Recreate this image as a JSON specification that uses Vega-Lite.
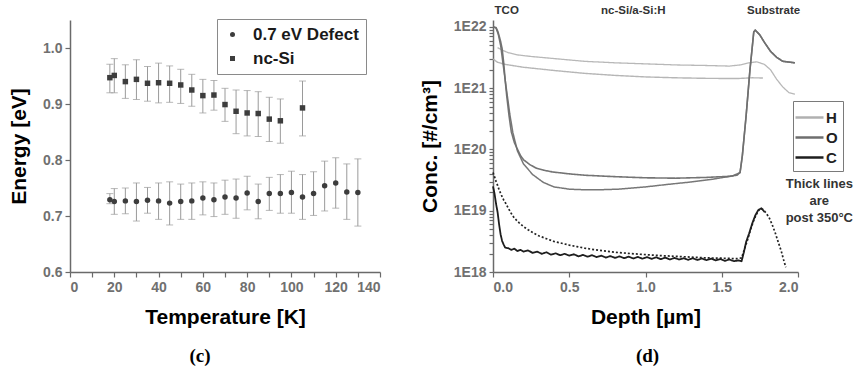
{
  "$schema": "https://vega.github.io/schema/vega-lite/v6.json",
  "background": "white",
  "padding": {"left": 8, "top": 5, "right": 0, "bottom": 5},
  "bounds": "flush",
  "spacing": 113,
  "config": {
    "font": "Liberation Sans",
    "view": {"stroke": null},
    "axis": {
      "grid": false,
      "domainColor": "#6a6a6a",
      "domainWidth": 1.5,
      "tickColor": "#6a6a6a",
      "tickWidth": 1.2,
      "tickSize": 5,
      "labelFont": "Liberation Sans",
      "labelFontWeight": "bold",
      "labelColor": "#707070",
      "labelFontSize": 14,
      "labelPadding": 3,
      "titleFont": "Liberation Sans",
      "titleFontWeight": "bold",
      "titleFontSize": 21,
      "titleColor": "#000000"
    }
  },
  "datasets": {
    "energy": [
      {"T": 18, "E": 0.729, "hi": 0.740, "lo": 0.722, "series": "0.7 eV Defect"},
      {"T": 20, "E": 0.726, "hi": 0.749, "lo": 0.703, "series": "0.7 eV Defect"},
      {"T": 25, "E": 0.727, "hi": 0.750, "lo": 0.704, "series": "0.7 eV Defect"},
      {"T": 30, "E": 0.726, "hi": 0.759, "lo": 0.691, "series": "0.7 eV Defect"},
      {"T": 35, "E": 0.728, "hi": 0.751, "lo": 0.705, "series": "0.7 eV Defect"},
      {"T": 40, "E": 0.727, "hi": 0.759, "lo": 0.694, "series": "0.7 eV Defect"},
      {"T": 45, "E": 0.723, "hi": 0.761, "lo": 0.684, "series": "0.7 eV Defect"},
      {"T": 50, "E": 0.726, "hi": 0.757, "lo": 0.694, "series": "0.7 eV Defect"},
      {"T": 55, "E": 0.727, "hi": 0.759, "lo": 0.694, "series": "0.7 eV Defect"},
      {"T": 60, "E": 0.732, "hi": 0.761, "lo": 0.702, "series": "0.7 eV Defect"},
      {"T": 65, "E": 0.729, "hi": 0.759, "lo": 0.699, "series": "0.7 eV Defect"},
      {"T": 70, "E": 0.734, "hi": 0.764, "lo": 0.703, "series": "0.7 eV Defect"},
      {"T": 75, "E": 0.732, "hi": 0.766, "lo": 0.696, "series": "0.7 eV Defect"},
      {"T": 80, "E": 0.741, "hi": 0.771, "lo": 0.711, "series": "0.7 eV Defect"},
      {"T": 85, "E": 0.726, "hi": 0.757, "lo": 0.695, "series": "0.7 eV Defect"},
      {"T": 90, "E": 0.740, "hi": 0.769, "lo": 0.710, "series": "0.7 eV Defect"},
      {"T": 95, "E": 0.740, "hi": 0.774, "lo": 0.705, "series": "0.7 eV Defect"},
      {"T": 100, "E": 0.742, "hi": 0.780, "lo": 0.705, "series": "0.7 eV Defect"},
      {"T": 105, "E": 0.734, "hi": 0.774, "lo": 0.694, "series": "0.7 eV Defect"},
      {"T": 110, "E": 0.740, "hi": 0.779, "lo": 0.701, "series": "0.7 eV Defect"},
      {"T": 115, "E": 0.754, "hi": 0.798, "lo": 0.709, "series": "0.7 eV Defect"},
      {"T": 120, "E": 0.759, "hi": 0.804, "lo": 0.714, "series": "0.7 eV Defect"},
      {"T": 125, "E": 0.743, "hi": 0.793, "lo": 0.694, "series": "0.7 eV Defect"},
      {"T": 130, "E": 0.742, "hi": 0.802, "lo": 0.682, "series": "0.7 eV Defect"},
      {"T": 18, "E": 0.947, "hi": 0.971, "lo": 0.920, "series": "nc-Si"},
      {"T": 20, "E": 0.951, "hi": 0.981, "lo": 0.920, "series": "nc-Si"},
      {"T": 25, "E": 0.940, "hi": 0.970, "lo": 0.910, "series": "nc-Si"},
      {"T": 30, "E": 0.944, "hi": 0.979, "lo": 0.908, "series": "nc-Si"},
      {"T": 35, "E": 0.937, "hi": 0.967, "lo": 0.905, "series": "nc-Si"},
      {"T": 40, "E": 0.938, "hi": 0.973, "lo": 0.902, "series": "nc-Si"},
      {"T": 45, "E": 0.937, "hi": 0.968, "lo": 0.903, "series": "nc-Si"},
      {"T": 50, "E": 0.934, "hi": 0.962, "lo": 0.901, "series": "nc-Si"},
      {"T": 55, "E": 0.925, "hi": 0.953, "lo": 0.896, "series": "nc-Si"},
      {"T": 60, "E": 0.915, "hi": 0.944, "lo": 0.884, "series": "nc-Si"},
      {"T": 65, "E": 0.916, "hi": 0.942, "lo": 0.889, "series": "nc-Si"},
      {"T": 70, "E": 0.899, "hi": 0.928, "lo": 0.869, "series": "nc-Si"},
      {"T": 75, "E": 0.887, "hi": 0.925, "lo": 0.847, "series": "nc-Si"},
      {"T": 80, "E": 0.884, "hi": 0.924, "lo": 0.843, "series": "nc-Si"},
      {"T": 85, "E": 0.883, "hi": 0.922, "lo": 0.842, "series": "nc-Si"},
      {"T": 90, "E": 0.873, "hi": 0.912, "lo": 0.833, "series": "nc-Si"},
      {"T": 95, "E": 0.870, "hi": 0.909, "lo": 0.830, "series": "nc-Si"},
      {"T": 105, "E": 0.893, "hi": 0.941, "lo": 0.843, "series": "nc-Si"}
    ],
    "sims": [
      {"depth": 0.03, "conc": 4.6e21, "element": "H", "series": "H-asdep"},
      {"depth": 0.06, "conc": 4.2e21, "element": "H", "series": "H-asdep"},
      {"depth": 0.1, "conc": 3.8e21, "element": "H", "series": "H-asdep"},
      {"depth": 0.16, "conc": 3.5e21, "element": "H", "series": "H-asdep"},
      {"depth": 0.25, "conc": 3.3e21, "element": "H", "series": "H-asdep"},
      {"depth": 0.4, "conc": 3.05e21, "element": "H", "series": "H-asdep"},
      {"depth": 0.6, "conc": 2.75e21, "element": "H", "series": "H-asdep"},
      {"depth": 0.8, "conc": 2.6e21, "element": "H", "series": "H-asdep"},
      {"depth": 1.0, "conc": 2.5e21, "element": "H", "series": "H-asdep"},
      {"depth": 1.2, "conc": 2.4e21, "element": "H", "series": "H-asdep"},
      {"depth": 1.4, "conc": 2.35e21, "element": "H", "series": "H-asdep"},
      {"depth": 1.55, "conc": 2.3e21, "element": "H", "series": "H-asdep"},
      {"depth": 1.62, "conc": 2.4e21, "element": "H", "series": "H-asdep"},
      {"depth": 1.68, "conc": 2.6e21, "element": "H", "series": "H-asdep"},
      {"depth": 1.73, "conc": 2.7e21, "element": "H", "series": "H-asdep"},
      {"depth": 1.78, "conc": 2.45e21, "element": "H", "series": "H-asdep"},
      {"depth": 1.82, "conc": 2.0e21, "element": "H", "series": "H-asdep"},
      {"depth": 1.86, "conc": 1.4e21, "element": "H", "series": "H-asdep"},
      {"depth": 1.9, "conc": 1.05e21, "element": "H", "series": "H-asdep"},
      {"depth": 1.94, "conc": 8.5e20, "element": "H", "series": "H-asdep"},
      {"depth": 1.98, "conc": 8.0e20, "element": "H", "series": "H-asdep"},
      {"depth": 0.0, "conc": 3.0e21, "element": "H", "series": "H-post"},
      {"depth": 0.03, "conc": 2.65e21, "element": "H", "series": "H-post"},
      {"depth": 0.08, "conc": 2.45e21, "element": "H", "series": "H-post"},
      {"depth": 0.2, "conc": 2.2e21, "element": "H", "series": "H-post"},
      {"depth": 0.4, "conc": 1.95e21, "element": "H", "series": "H-post"},
      {"depth": 0.6, "conc": 1.75e21, "element": "H", "series": "H-post"},
      {"depth": 0.8, "conc": 1.62e21, "element": "H", "series": "H-post"},
      {"depth": 1.0, "conc": 1.53e21, "element": "H", "series": "H-post"},
      {"depth": 1.2, "conc": 1.48e21, "element": "H", "series": "H-post"},
      {"depth": 1.4, "conc": 1.45e21, "element": "H", "series": "H-post"},
      {"depth": 1.6, "conc": 1.44e21, "element": "H", "series": "H-post"},
      {"depth": 1.7, "conc": 1.48e21, "element": "H", "series": "H-post"},
      {"depth": 1.77, "conc": 1.47e21, "element": "H", "series": "H-post"},
      {"depth": 0.0, "conc": 1.0e22, "element": "O", "series": "O-asdep"},
      {"depth": 0.02, "conc": 9.6e21, "element": "O", "series": "O-asdep"},
      {"depth": 0.035, "conc": 7.5e21, "element": "O", "series": "O-asdep"},
      {"depth": 0.05, "conc": 5.0e21, "element": "O", "series": "O-asdep"},
      {"depth": 0.065, "conc": 2.6e21, "element": "O", "series": "O-asdep"},
      {"depth": 0.08, "conc": 1.35e21, "element": "O", "series": "O-asdep"},
      {"depth": 0.095, "conc": 7.2e20, "element": "O", "series": "O-asdep"},
      {"depth": 0.11, "conc": 3.8e20, "element": "O", "series": "O-asdep"},
      {"depth": 0.13, "conc": 1.9e20, "element": "O", "series": "O-asdep"},
      {"depth": 0.16, "conc": 9.5e19, "element": "O", "series": "O-asdep"},
      {"depth": 0.2, "conc": 5.8e19, "element": "O", "series": "O-asdep"},
      {"depth": 0.26, "conc": 3.9e19, "element": "O", "series": "O-asdep"},
      {"depth": 0.33, "conc": 2.9e19, "element": "O", "series": "O-asdep"},
      {"depth": 0.4, "conc": 2.45e19, "element": "O", "series": "O-asdep"},
      {"depth": 0.5, "conc": 2.25e19, "element": "O", "series": "O-asdep"},
      {"depth": 0.6, "conc": 2.2e19, "element": "O", "series": "O-asdep"},
      {"depth": 0.7, "conc": 2.2e19, "element": "O", "series": "O-asdep"},
      {"depth": 0.82, "conc": 2.25e19, "element": "O", "series": "O-asdep"},
      {"depth": 1.0, "conc": 2.45e19, "element": "O", "series": "O-asdep"},
      {"depth": 1.15, "conc": 2.7e19, "element": "O", "series": "O-asdep"},
      {"depth": 1.3, "conc": 2.95e19, "element": "O", "series": "O-asdep"},
      {"depth": 1.45, "conc": 3.3e19, "element": "O", "series": "O-asdep"},
      {"depth": 1.57, "conc": 3.7e19, "element": "O", "series": "O-asdep"},
      {"depth": 1.62, "conc": 4.2e19, "element": "O", "series": "O-asdep"},
      {"depth": 1.635, "conc": 7.9e19, "element": "O", "series": "O-asdep"},
      {"depth": 1.66, "conc": 3.6e20, "element": "O", "series": "O-asdep"},
      {"depth": 1.685, "conc": 2.0e21, "element": "O", "series": "O-asdep"},
      {"depth": 1.71, "conc": 8.3e21, "element": "O", "series": "O-asdep"},
      {"depth": 1.72, "conc": 8.9e21, "element": "O", "series": "O-asdep"},
      {"depth": 1.75, "conc": 7.4e21, "element": "O", "series": "O-asdep"},
      {"depth": 1.78, "conc": 5.6e21, "element": "O", "series": "O-asdep"},
      {"depth": 1.82, "conc": 4.0e21, "element": "O", "series": "O-asdep"},
      {"depth": 1.86, "conc": 3.2e21, "element": "O", "series": "O-asdep"},
      {"depth": 1.9, "conc": 2.75e21, "element": "O", "series": "O-asdep"},
      {"depth": 1.98, "conc": 2.6e21, "element": "O", "series": "O-asdep"},
      {"depth": 0.0, "conc": 1.0e22, "element": "O", "series": "O-post"},
      {"depth": 0.02, "conc": 9.8e21, "element": "O", "series": "O-post"},
      {"depth": 0.033, "conc": 8.3e21, "element": "O", "series": "O-post"},
      {"depth": 0.05, "conc": 5.8e21, "element": "O", "series": "O-post"},
      {"depth": 0.06, "conc": 4.4e21, "element": "O", "series": "O-post"},
      {"depth": 0.07, "conc": 2.6e21, "element": "O", "series": "O-post"},
      {"depth": 0.08, "conc": 1.35e21, "element": "O", "series": "O-post"},
      {"depth": 0.09, "conc": 7.5e20, "element": "O", "series": "O-post"},
      {"depth": 0.105, "conc": 3.6e20, "element": "O", "series": "O-post"},
      {"depth": 0.12, "conc": 1.95e20, "element": "O", "series": "O-post"},
      {"depth": 0.14, "conc": 1.3e20, "element": "O", "series": "O-post"},
      {"depth": 0.157, "conc": 1.05e20, "element": "O", "series": "O-post"},
      {"depth": 0.18, "conc": 8.0e19, "element": "O", "series": "O-post"},
      {"depth": 0.2, "conc": 6.8e19, "element": "O", "series": "O-post"},
      {"depth": 0.24, "conc": 5.7e19, "element": "O", "series": "O-post"},
      {"depth": 0.28, "conc": 5.0e19, "element": "O", "series": "O-post"},
      {"depth": 0.33, "conc": 4.6e19, "element": "O", "series": "O-post"},
      {"depth": 0.39, "conc": 4.3e19, "element": "O", "series": "O-post"},
      {"depth": 0.5, "conc": 4.0e19, "element": "O", "series": "O-post"},
      {"depth": 0.6, "conc": 3.8e19, "element": "O", "series": "O-post"},
      {"depth": 0.8, "conc": 3.6e19, "element": "O", "series": "O-post"},
      {"depth": 1.0, "conc": 3.45e19, "element": "O", "series": "O-post"},
      {"depth": 1.2, "conc": 3.4e19, "element": "O", "series": "O-post"},
      {"depth": 1.4, "conc": 3.5e19, "element": "O", "series": "O-post"},
      {"depth": 1.55, "conc": 3.65e19, "element": "O", "series": "O-post"},
      {"depth": 1.6, "conc": 3.8e19, "element": "O", "series": "O-post"},
      {"depth": 1.62, "conc": 4.2e19, "element": "O", "series": "O-post"},
      {"depth": 1.635, "conc": 7.9e19, "element": "O", "series": "O-post"},
      {"depth": 1.66, "conc": 3.6e20, "element": "O", "series": "O-post"},
      {"depth": 1.685, "conc": 2.0e21, "element": "O", "series": "O-post"},
      {"depth": 1.71, "conc": 8.3e21, "element": "O", "series": "O-post"},
      {"depth": 1.72, "conc": 8.9e21, "element": "O", "series": "O-post"},
      {"depth": 1.75, "conc": 7.4e21, "element": "O", "series": "O-post"},
      {"depth": 1.78, "conc": 5.6e21, "element": "O", "series": "O-post"},
      {"depth": 1.82, "conc": 4.0e21, "element": "O", "series": "O-post"},
      {"depth": 1.86, "conc": 3.2e21, "element": "O", "series": "O-post"},
      {"depth": 1.9, "conc": 2.75e21, "element": "O", "series": "O-post"},
      {"depth": 1.98, "conc": 2.6e21, "element": "O", "series": "O-post"},
      {"depth": 0.0, "conc": 4.2e19, "element": "C", "series": "C-asdep"},
      {"depth": 0.01, "conc": 3.6e19, "element": "C", "series": "C-asdep"},
      {"depth": 0.02, "conc": 3.0e19, "element": "C", "series": "C-asdep"},
      {"depth": 0.03, "conc": 2.6e19, "element": "C", "series": "C-asdep"},
      {"depth": 0.04, "conc": 2.2e19, "element": "C", "series": "C-asdep"},
      {"depth": 0.055, "conc": 1.8e19, "element": "C", "series": "C-asdep"},
      {"depth": 0.07, "conc": 1.5e19, "element": "C", "series": "C-asdep"},
      {"depth": 0.085, "conc": 1.3e19, "element": "C", "series": "C-asdep"},
      {"depth": 0.1, "conc": 1.1e19, "element": "C", "series": "C-asdep"},
      {"depth": 0.12, "conc": 9.0e18, "element": "C", "series": "C-asdep"},
      {"depth": 0.14, "conc": 7.6e18, "element": "C", "series": "C-asdep"},
      {"depth": 0.17, "conc": 6.4e18, "element": "C", "series": "C-asdep"},
      {"depth": 0.2, "conc": 5.5e18, "element": "C", "series": "C-asdep"},
      {"depth": 0.23, "conc": 4.9e18, "element": "C", "series": "C-asdep"},
      {"depth": 0.26, "conc": 4.4e18, "element": "C", "series": "C-asdep"},
      {"depth": 0.3, "conc": 3.9e18, "element": "C", "series": "C-asdep"},
      {"depth": 0.35, "conc": 3.5e18, "element": "C", "series": "C-asdep"},
      {"depth": 0.4, "conc": 3.15e18, "element": "C", "series": "C-asdep"},
      {"depth": 0.45, "conc": 2.95e18, "element": "C", "series": "C-asdep"},
      {"depth": 0.5, "conc": 2.75e18, "element": "C", "series": "C-asdep"},
      {"depth": 0.55, "conc": 2.6e18, "element": "C", "series": "C-asdep"},
      {"depth": 0.6, "conc": 2.45e18, "element": "C", "series": "C-asdep"},
      {"depth": 0.7, "conc": 2.25e18, "element": "C", "series": "C-asdep"},
      {"depth": 0.8, "conc": 2.1e18, "element": "C", "series": "C-asdep"},
      {"depth": 0.9, "conc": 2.0e18, "element": "C", "series": "C-asdep"},
      {"depth": 1.0, "conc": 1.92e18, "element": "C", "series": "C-asdep"},
      {"depth": 1.1, "conc": 1.85e18, "element": "C", "series": "C-asdep"},
      {"depth": 1.2, "conc": 1.8e18, "element": "C", "series": "C-asdep"},
      {"depth": 1.3, "conc": 1.75e18, "element": "C", "series": "C-asdep"},
      {"depth": 1.4, "conc": 1.7e18, "element": "C", "series": "C-asdep"},
      {"depth": 1.5, "conc": 1.68e18, "element": "C", "series": "C-asdep"},
      {"depth": 1.6, "conc": 1.65e18, "element": "C", "series": "C-asdep"},
      {"depth": 1.63, "conc": 1.7e18, "element": "C", "series": "C-asdep"},
      {"depth": 1.65, "conc": 2.4e18, "element": "C", "series": "C-asdep"},
      {"depth": 1.67, "conc": 3.4e18, "element": "C", "series": "C-asdep"},
      {"depth": 1.69, "conc": 5.0e18, "element": "C", "series": "C-asdep"},
      {"depth": 1.71, "conc": 7.0e18, "element": "C", "series": "C-asdep"},
      {"depth": 1.73, "conc": 9.0e18, "element": "C", "series": "C-asdep"},
      {"depth": 1.75, "conc": 1.08e19, "element": "C", "series": "C-asdep"},
      {"depth": 1.77, "conc": 1.05e19, "element": "C", "series": "C-asdep"},
      {"depth": 1.79, "conc": 9.2e18, "element": "C", "series": "C-asdep"},
      {"depth": 1.81, "conc": 7.8e18, "element": "C", "series": "C-asdep"},
      {"depth": 1.83, "conc": 6.0e18, "element": "C", "series": "C-asdep"},
      {"depth": 1.85, "conc": 4.4e18, "element": "C", "series": "C-asdep"},
      {"depth": 1.87, "conc": 3.1e18, "element": "C", "series": "C-asdep"},
      {"depth": 1.89, "conc": 2.2e18, "element": "C", "series": "C-asdep"},
      {"depth": 1.905, "conc": 1.6e18, "element": "C", "series": "C-asdep"},
      {"depth": 1.92, "conc": 1.2e18, "element": "C", "series": "C-asdep"},
      {"depth": 0.0, "conc": 2.5e19, "element": "C", "series": "C-post"},
      {"depth": 0.01, "conc": 1.9e19, "element": "C", "series": "C-post"},
      {"depth": 0.02, "conc": 1.3e19, "element": "C", "series": "C-post"},
      {"depth": 0.03, "conc": 9.5e18, "element": "C", "series": "C-post"},
      {"depth": 0.04, "conc": 6.0e18, "element": "C", "series": "C-post"},
      {"depth": 0.05, "conc": 4.1e18, "element": "C", "series": "C-post"},
      {"depth": 0.06, "conc": 3.2e18, "element": "C", "series": "C-post"},
      {"depth": 0.07, "conc": 2.8e18, "element": "C", "series": "C-post"},
      {"depth": 0.08, "conc": 2.5e18, "element": "C", "series": "C-post"},
      {"depth": 0.1, "conc": 2.45e18, "element": "C", "series": "C-post"},
      {"depth": 0.12, "conc": 2.3e18, "element": "C", "series": "C-post"},
      {"depth": 0.14, "conc": 2.4e18, "element": "C", "series": "C-post"},
      {"depth": 0.16, "conc": 2.2e18, "element": "C", "series": "C-post"},
      {"depth": 0.18, "conc": 2.3e18, "element": "C", "series": "C-post"},
      {"depth": 0.2, "conc": 2.15e18, "element": "C", "series": "C-post"},
      {"depth": 0.23, "conc": 2.25e18, "element": "C", "series": "C-post"},
      {"depth": 0.26, "conc": 2.05e18, "element": "C", "series": "C-post"},
      {"depth": 0.29, "conc": 2.15e18, "element": "C", "series": "C-post"},
      {"depth": 0.32, "conc": 1.98e18, "element": "C", "series": "C-post"},
      {"depth": 0.35, "conc": 2.1e18, "element": "C", "series": "C-post"},
      {"depth": 0.38, "conc": 1.92e18, "element": "C", "series": "C-post"},
      {"depth": 0.41, "conc": 2.02e18, "element": "C", "series": "C-post"},
      {"depth": 0.44, "conc": 1.88e18, "element": "C", "series": "C-post"},
      {"depth": 0.47, "conc": 1.98e18, "element": "C", "series": "C-post"},
      {"depth": 0.5, "conc": 1.85e18, "element": "C", "series": "C-post"},
      {"depth": 0.53, "conc": 1.95e18, "element": "C", "series": "C-post"},
      {"depth": 0.56, "conc": 1.8e18, "element": "C", "series": "C-post"},
      {"depth": 0.59, "conc": 1.9e18, "element": "C", "series": "C-post"},
      {"depth": 0.62, "conc": 1.78e18, "element": "C", "series": "C-post"},
      {"depth": 0.65, "conc": 1.88e18, "element": "C", "series": "C-post"},
      {"depth": 0.68, "conc": 1.75e18, "element": "C", "series": "C-post"},
      {"depth": 0.71, "conc": 1.85e18, "element": "C", "series": "C-post"},
      {"depth": 0.74, "conc": 1.72e18, "element": "C", "series": "C-post"},
      {"depth": 0.77, "conc": 1.82e18, "element": "C", "series": "C-post"},
      {"depth": 0.8, "conc": 1.7e18, "element": "C", "series": "C-post"},
      {"depth": 0.83, "conc": 1.8e18, "element": "C", "series": "C-post"},
      {"depth": 0.86, "conc": 1.68e18, "element": "C", "series": "C-post"},
      {"depth": 0.89, "conc": 1.78e18, "element": "C", "series": "C-post"},
      {"depth": 0.92, "conc": 1.66e18, "element": "C", "series": "C-post"},
      {"depth": 0.95, "conc": 1.76e18, "element": "C", "series": "C-post"},
      {"depth": 0.98, "conc": 1.65e18, "element": "C", "series": "C-post"},
      {"depth": 1.01, "conc": 1.75e18, "element": "C", "series": "C-post"},
      {"depth": 1.04, "conc": 1.64e18, "element": "C", "series": "C-post"},
      {"depth": 1.07, "conc": 1.74e18, "element": "C", "series": "C-post"},
      {"depth": 1.1, "conc": 1.62e18, "element": "C", "series": "C-post"},
      {"depth": 1.13, "conc": 1.72e18, "element": "C", "series": "C-post"},
      {"depth": 1.16, "conc": 1.6e18, "element": "C", "series": "C-post"},
      {"depth": 1.19, "conc": 1.7e18, "element": "C", "series": "C-post"},
      {"depth": 1.22, "conc": 1.6e18, "element": "C", "series": "C-post"},
      {"depth": 1.25, "conc": 1.68e18, "element": "C", "series": "C-post"},
      {"depth": 1.28, "conc": 1.58e18, "element": "C", "series": "C-post"},
      {"depth": 1.31, "conc": 1.68e18, "element": "C", "series": "C-post"},
      {"depth": 1.34, "conc": 1.57e18, "element": "C", "series": "C-post"},
      {"depth": 1.37, "conc": 1.66e18, "element": "C", "series": "C-post"},
      {"depth": 1.4, "conc": 1.56e18, "element": "C", "series": "C-post"},
      {"depth": 1.43, "conc": 1.65e18, "element": "C", "series": "C-post"},
      {"depth": 1.46, "conc": 1.55e18, "element": "C", "series": "C-post"},
      {"depth": 1.49, "conc": 1.63e18, "element": "C", "series": "C-post"},
      {"depth": 1.52, "conc": 1.52e18, "element": "C", "series": "C-post"},
      {"depth": 1.55, "conc": 1.6e18, "element": "C", "series": "C-post"},
      {"depth": 1.58, "conc": 1.5e18, "element": "C", "series": "C-post"},
      {"depth": 1.61, "conc": 1.55e18, "element": "C", "series": "C-post"},
      {"depth": 1.63, "conc": 1.5e18, "element": "C", "series": "C-post"},
      {"depth": 1.645, "conc": 2.1e18, "element": "C", "series": "C-post"},
      {"depth": 1.66, "conc": 3.1e18, "element": "C", "series": "C-post"},
      {"depth": 1.68, "conc": 4.3e18, "element": "C", "series": "C-post"},
      {"depth": 1.7, "conc": 6.2e18, "element": "C", "series": "C-post"},
      {"depth": 1.72, "conc": 8.4e18, "element": "C", "series": "C-post"},
      {"depth": 1.74, "conc": 1.03e19, "element": "C", "series": "C-post"},
      {"depth": 1.76, "conc": 1.1e19, "element": "C", "series": "C-post"},
      {"depth": 1.78, "conc": 9.6e18, "element": "C", "series": "C-post"}
    ],
    "regions": [
      {"depth": 0.09, "conc": 1.8e22, "label": "TCO"},
      {"depth": 0.92, "conc": 1.8e22, "label": "nc-Si/a-Si:H"},
      {"depth": 1.84, "conc": 1.8e22, "label": "Substrate"}
    ],
    "note": [
      {"depth": 2.14, "conc": 3.4e19, "label": "Thick lines\nare\npost 350°C"}
    ]
  },
  "hconcat": [
    {
      "width": 310,
      "height": 252,
      "title": {"text": "(c)", "orient": "bottom", "font": "Liberation Serif", "fontSize": 19, "fontWeight": "bold", "color": "#000000", "dx": -25, "offset": 20},
      "data": {"name": "energy"},
      "encoding": {
        "x": {
          "field": "T", "type": "quantitative",
          "scale": {"domain": [0, 140], "nice": false},
          "axis": {
            "title": "Temperature [K]",
            "values": [0, 10, 20, 30, 40, 50, 60, 70, 80, 90, 100, 110, 120, 130, 140],
            "labelExpr": "datum.value % 20 == 0 ? datum.label : ''",
            "titlePadding": 12
          }
        }
      },
      "layer": [
        {
          "mark": {"type": "errorbar", "ticks": true, "size": 7, "thickness": 1, "color": "#9a9a9a"},
          "encoding": {
            "y": {"field": "lo", "type": "quantitative", "scale": {"domain": [0.6, 1.05], "nice": false, "zero": false}, "title": "Energy [eV]"},
            "y2": {"field": "hi"}
          }
        },
        {
          "mark": {"type": "point", "filled": true, "color": "#3d3d3d", "size": 30, "opacity": 1},
          "encoding": {
            "y": {
              "field": "E", "type": "quantitative",
              "scale": {"domain": [0.6, 1.05], "nice": false, "zero": false},
              "axis": {
                "title": "Energy [eV]",
                "values": [0.6, 0.65, 0.7, 0.75, 0.8, 0.85, 0.9, 0.95, 1.0],
                "labelExpr": "abs(datum.value * 10 - round(datum.value * 10)) < 0.001 ? format(datum.value, '.1f') : ''",
                "titlePadding": 13
              }
            },
            "shape": {
              "field": "series", "type": "nominal",
              "scale": {"domain": ["0.7 eV Defect", "nc-Si"], "range": ["circle", "square"]},
              "legend": {
                "title": null,
                "orient": "none",
                "legendX": 147,
                "legendY": -1,
                "strokeColor": "#8a8a8a",
                "fillColor": "white",
                "padding": 7,
                "labelFont": "Liberation Sans",
                "labelFontSize": 17,
                "labelFontWeight": "bold",
                "labelColor": "#1a1a1a",
                "labelOffset": 12,
                "symbolSize": 25,
                "symbolFillColor": "#3d3d3d",
                "symbolStrokeColor": "#3d3d3d",
                "rowPadding": 6
              }
            }
          }
        }
      ]
    },
    {
      "width": 305,
      "height": 252,
      "title": {"text": "(d)", "orient": "bottom", "font": "Liberation Serif", "fontSize": 19, "fontWeight": "bold", "color": "#000000", "dx": 2, "offset": 20},
      "layer": [
        {
          "data": {"name": "sims"},
          "mark": {"type": "line", "strokeJoin": "round"},
          "encoding": {
            "x": {
              "field": "depth", "type": "quantitative",
              "scale": {"domain": [0, 2], "nice": false},
              "axis": {
                "title": "Depth [µm]",
                "values": [0, 0.25, 0.5, 0.75, 1.0, 1.25, 1.5, 1.75, 2.0],
                "labelExpr": "abs(datum.value * 2 - round(datum.value * 2)) < 0.001 ? format(datum.value, '.1f') : ''",
                "titlePadding": 12
              }
            },
            "y": {
              "field": "conc", "type": "quantitative",
              "scale": {"type": "log", "domain": [1e18, 1.3e22], "nice": false},
              "axis": {
                "title": "Conc. [#/cm³]",
                "values": [1e18, 2e18, 3e18, 4e18, 5e18, 6e18, 7e18, 8e18, 9e18, 1e19, 2e19, 3e19, 4e19, 5e19, 6e19, 7e19, 8e19, 9e19, 1e20, 2e20, 3e20, 4e20, 5e20, 6e20, 7e20, 8e20, 9e20, 1e21, 2e21, 3e21, 4e21, 5e21, 6e21, 7e21, 8e21, 9e21, 1e22],
                "labelExpr": "abs(log(datum.value) / LN10 - round(log(datum.value) / LN10)) < 0.001 ? '1E' + round(log(datum.value) / LN10) : ''",
                "tickSize": 4,
                "titlePadding": 13
              }
            },
            "detail": {"field": "series", "type": "nominal"},
            "color": {
              "field": "element", "type": "nominal",
              "scale": {"domain": ["H", "O", "C"], "range": ["#b0b0b0", "#6e6e6e", "#1e1e1e"]},
              "legend": {
                "title": null,
                "orient": "none",
                "legendX": 723,
                "legendY": 81,
                "strokeColor": "#7a7a7a",
                "fillColor": "white",
                "padding": 5,
                "symbolType": "M-1.4,0H1.4",
                "symbolSize": 400,
                "symbolStrokeWidth": 2.5,
                "labelFont": "Liberation Sans",
                "labelFontSize": 15,
                "labelFontWeight": "bold",
                "labelColor": "#222222",
                "labelOffset": 5,
                "rowPadding": 0
              }
            },
            "strokeWidth": {
              "field": "series", "type": "nominal",
              "scale": {"domain": ["H-asdep", "H-post", "O-asdep", "O-post", "C-asdep", "C-post"], "range": [1.3, 1.8, 1.4, 2.4, 1.6, 3]},
              "legend": null
            },
            "strokeDash": {
              "field": "series", "type": "nominal",
              "scale": {"domain": ["H-asdep", "H-post", "O-asdep", "O-post", "C-asdep", "C-post"], "range": [[1, 0], [1, 0], [1, 0], [1, 0], [2, 2], [1, 0]]},
              "legend": null
            },
            "opacity": {
              "field": "series", "type": "nominal",
              "scale": {"domain": ["H-asdep", "H-post", "O-asdep", "O-post", "C-asdep", "C-post"], "range": [0.9, 1, 0.85, 1, 0.7, 1]},
              "legend": null
            }
          }
        },
        {
          "data": {"name": "regions"},
          "mark": {"type": "text", "font": "Liberation Sans", "fontSize": 11.5, "fontWeight": "bold", "color": "#333333", "baseline": "middle", "align": "center"},
          "encoding": {
            "x": {"field": "depth", "type": "quantitative"},
            "y": {"field": "conc", "type": "quantitative"},
            "text": {"field": "label"}
          }
        },
        {
          "data": {"name": "note"},
          "mark": {"type": "text", "font": "Liberation Sans", "fontSize": 13, "fontWeight": "bold", "color": "#333333", "baseline": "top", "align": "center", "lineBreak": "\n", "lineHeight": 17},
          "encoding": {
            "x": {"field": "depth", "type": "quantitative"},
            "y": {"field": "conc", "type": "quantitative"},
            "text": {"field": "label"}
          }
        }
      ]
    }
  ]
}
